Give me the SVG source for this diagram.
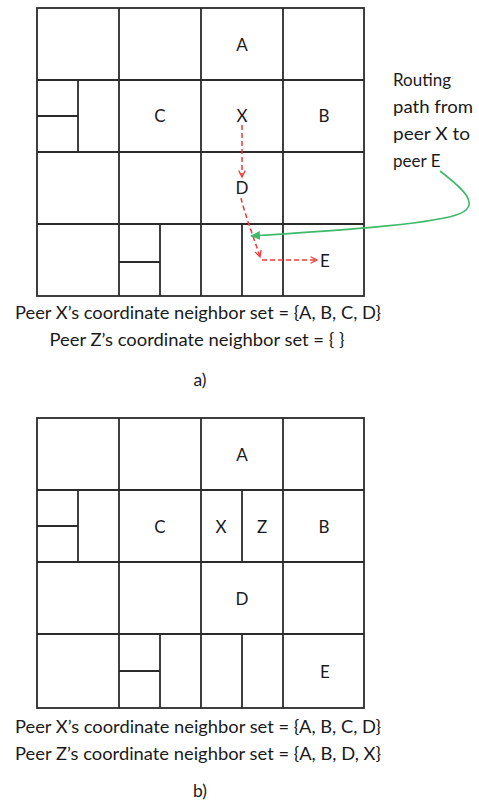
<svg xmlns="http://www.w3.org/2000/svg" width="479" height="805" viewBox="0 0 479 805">
<style>
.g{fill:none;stroke:#2b2b2b;stroke-width:1.8}
.l{font-family:Lato,"Open Sans","Liberation Sans",sans-serif;font-size:17px;fill:#1a1a1a;text-anchor:middle}
.t{font-family:Lato,"Open Sans","Liberation Sans",sans-serif;font-size:17px;fill:#1a1a1a}
.c{font-family:Lato,"Open Sans","Liberation Sans",sans-serif;font-size:17.5px;fill:#1a1a1a;text-anchor:middle}
.r{fill:none;stroke:#f03a3a;stroke-width:1.5;stroke-dasharray:5 3}
</style>
<defs>
<marker id="ra" viewBox="0 0 10 10" refX="9" refY="5" markerWidth="8" markerHeight="8" orient="auto" markerUnits="userSpaceOnUse">
<path d="M1,1 L9,5 L1,9" fill="none" stroke="#f03a3a" stroke-width="1.6"/>
</marker>
<marker id="ga" viewBox="0 0 10 10" refX="9" refY="5" markerWidth="10" markerHeight="10" orient="auto" markerUnits="userSpaceOnUse">
<path d="M0,0.5 L10,5 L0,9.5 Z" fill="#3dba6a"/>
</marker>
</defs>
<g id="gridA">
<rect class="g" x="37" y="8" width="327" height="288"/>
<path class="g" d="M119,8V296M201,8V296M283,8V296M37,80H364M37,152H364M37,224H364M78,80V152M37,116H78M160,224V296M119,262H160M242,224V296"/>
</g>
<g id="labelsA">
<text id="A1" class="l" x="242" y="51">A</text>
<text id="C1" class="l" x="160" y="122">C</text>
<text id="X1" class="l" x="242" y="122">X</text>
<text id="B1" class="l" x="324" y="122">B</text>
<text id="D1" class="l" x="242" y="194">D</text>
<text id="E1" class="l" x="325" y="267">E</text>
</g>
<g id="routing-label">
<text class="t" x="393" y="86">Routing</text>
<text class="t" x="393" y="113" textLength="80" lengthAdjust="spacingAndGlyphs">path from</text>
<text class="t" x="393" y="140" textLength="77" lengthAdjust="spacingAndGlyphs">peer X to</text>
<text class="t" x="393" y="167">peer E</text>
</g>
<g id="connectors">
<path class="r" d="M242,125 L242,177" marker-end="url(#ra)"/>
<path class="r" d="M241,198 C245,215 254,238 260,257" marker-end="url(#ra)"/>
<path class="r" d="M262,260 L317,260" marker-end="url(#ra)"/>
<path d="M440,171 C462,188 484,206 456,215 C425,225 330,231 251,236" fill="none" stroke="#3dba6a" stroke-width="1.6" marker-end="url(#ga)"/>
</g>
<g id="captionA">
<text class="c" x="198" y="319" textLength="366" lengthAdjust="spacingAndGlyphs">Peer X’s coordinate neighbor set = {A, B, C, D}</text>
<text class="c" x="197" y="346" textLength="295" lengthAdjust="spacingAndGlyphs">Peer Z’s coordinate neighbor set = { }</text>
<text class="c" x="200" y="386">a)</text>
</g>
<g id="gridB">
<rect class="g" x="37" y="418" width="327" height="290"/>
<path class="g" d="M119,418V708M201,418V708M283,418V708M37,490H364M37,562H364M37,634H364M78,490V562M37,526H78M242,490V562M160,634V708M119,671H160M242,634V708"/>
</g>
<g id="labelsB">
<text id="A2" class="l" x="242" y="461">A</text>
<text id="C2" class="l" x="160" y="533">C</text>
<text id="X2" class="l" x="221" y="533">X</text>
<text id="Z2" class="l" x="262" y="533">Z</text>
<text id="B2" class="l" x="324" y="533">B</text>
<text id="D2" class="l" x="242" y="605">D</text>
<text id="E2" class="l" x="325" y="678">E</text>
</g>
<g id="captionB">
<text class="c" x="198" y="733" textLength="366" lengthAdjust="spacingAndGlyphs">Peer X’s coordinate neighbor set = {A, B, C, D}</text>
<text class="c" x="198" y="760" textLength="366" lengthAdjust="spacingAndGlyphs">Peer Z’s coordinate neighbor set = {A, B, D, X}</text>
<text class="c" x="200" y="797">b)</text>
</g>
</svg>
